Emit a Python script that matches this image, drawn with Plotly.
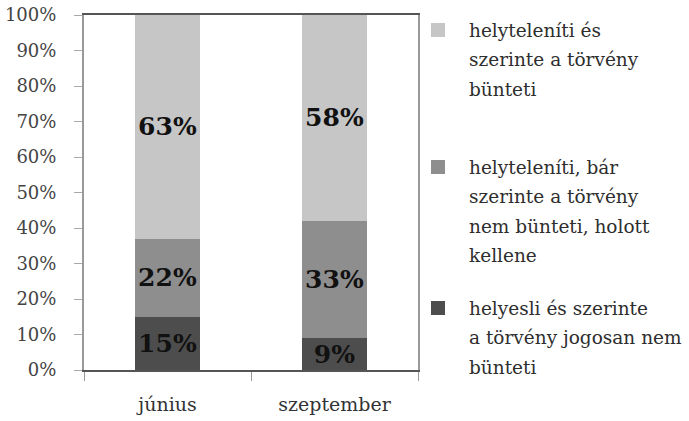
import plotly.graph_objects as go

categories = ["június", "szeptember"]
series_names = [
    "helyesli és szerinte a törvény jogosan nem bünteti",
    "helyteleníti, bár szerinte a törvény nem bünteti, holott kellene",
    "helyteleníti és szerinte a törvény bünteti",
]
values_bottom = [15, 9]
values_middle = [22, 33]
values_top = [63, 58]
series_values = [values_bottom, values_middle, values_top]
colors = ["#4d4d4d", "#8e8e8e", "#c6c6c6"]

# legend text lines (top entry first)
legend_lines = [
    ["helyteleníti és", "szerinte a törvény", "bünteti"],
    ["helyteleníti, bár", "szerinte a törvény", "nem bünteti, holott", "kellene"],
    ["helyesli és szerinte", "a törvény jogosan nem", "bünteti"],
]
legend_colors = [colors[2], colors[1], colors[0]]
legend_first_line_px = [30, 167, 308]
line_step_px = 29.5

W, H = 689, 421
L, R, T, B = 84, 271, 15, 51
pw, ph = W - L - R, H - T - B

FONT = "DejaVu Serif"

fig = go.Figure()
for name, vals, col in zip(series_names, series_values, colors):
    fig.add_trace(go.Bar(
        x=categories, y=[v / 100 for v in vals], name=name,
        marker=dict(color=col, line=dict(width=0)),
        width=0.39,
        text=[f"{v}%" for v in vals], textposition="inside",
        insidetextanchor="middle", constraintext="none",
        textfont=dict(family=FONT, size=25, color="#111111", weight="bold"),
        showlegend=False,
    ))

def px_to_paper_x(x):
    return (x - L) / pw

def px_to_paper_y(y):
    return (H - B - y) / ph

annotations = []
shapes = []
for lines, col, y0 in zip(legend_lines, legend_colors, legend_first_line_px):
    shapes.append(dict(
        type="rect", xref="paper", yref="paper",
        x0=px_to_paper_x(431), x1=px_to_paper_x(445),
        y0=px_to_paper_y(y0 + 7), y1=px_to_paper_y(y0 - 7),
        fillcolor=col, line=dict(width=0),
    ))
    for i, ln in enumerate(lines):
        annotations.append(dict(
            text=ln, xref="paper", yref="paper",
            x=px_to_paper_x(467), y=px_to_paper_y(y0 + i * line_step_px),
            xanchor="left", yanchor="middle", showarrow=False,
            font=dict(family=FONT, size=18.5, color="#2e2e2e"),
        ))

fig.update_layout(
    width=W, height=H,
    margin=dict(l=L, r=R, t=T, b=B, autoexpand=False),
    barmode="stack",
    plot_bgcolor="white", paper_bgcolor="white",
    showlegend=False,
    annotations=annotations,
    shapes=shapes,
)
fig.update_xaxes(
    automargin=False,
    showline=True, linecolor="#555555", linewidth=2, mirror=True,
    ticks="outside", tickson="boundaries", ticklen=9, tickcolor="#999999",
    tickfont=dict(family=FONT, size=19, color="#333333"),
    ticklabelstandoff=16,
    showgrid=False,
)
fig.update_yaxes(
    automargin=False,
    range=[0, 1], dtick=0.1, tickformat=".0%",
    showline=True, linecolor="#999999", linewidth=2, mirror=True,
    ticks="outside", ticklen=8, tickcolor="#aaaaaa",
    tickfont=dict(family=FONT, size=18, color="#444444"),
    ticklabelstandoff=14,
    showgrid=False, zeroline=False,
)

fig.write_html(
    "out.html",
    config={"displayModeBar": False},
    post_script="document.body.style.margin='0';document.body.style.overflow='hidden';",
)
